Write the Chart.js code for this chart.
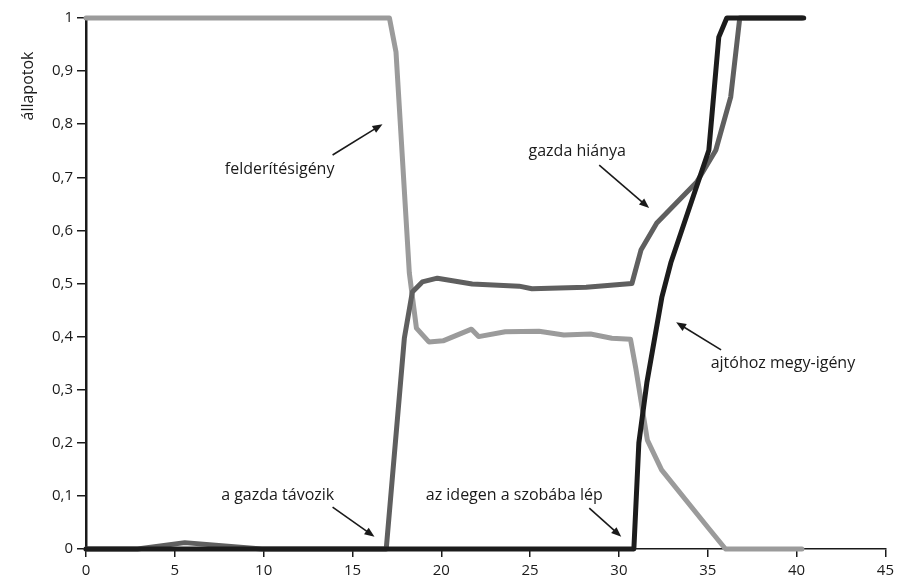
<!DOCTYPE html>
<html>
<head>
<meta charset="utf-8">
<script src="https://cdn.jsdelivr.net/npm/chart.js@4/dist/chart.umd.min.js"></script>
<style>
  html, body { margin: 0; padding: 0; background: #fff; }
  #wrap { width: 899px; height: 581px; position: relative; }
</style>
</head>
<body>
<div id="wrap"><canvas id="c"></canvas></div>
<script>
// ---- data ----
const felderitesX = [0, 17.08, 17.45, 18.2, 18.6, 19.3, 20.1, 21.7, 22.1, 23.6, 25.5, 26.9, 28.4, 29.6, 30.65, 30.95, 31.6, 32.4, 35.0, 36.0, 40.3];
const felderitesY = [1, 1, 0.936, 0.52, 0.416, 0.39, 0.392, 0.414, 0.40, 0.409, 0.41, 0.403, 0.405, 0.397, 0.395, 0.34, 0.205, 0.149, 0.041, 0, 0];

const gazdaX = [0, 2.9, 5.56, 9.9, 16.9, 17.92, 18.37, 18.93, 19.78, 21.74, 24.38, 25.1, 28.15, 30.73, 31.24, 32.13, 34.38, 35.45, 36.29, 36.8, 40.3];
const gazdaY = [0, 0, 0.012, 0, 0, 0.397, 0.484, 0.503, 0.51, 0.499, 0.495, 0.49, 0.493, 0.50, 0.563, 0.614, 0.691, 0.751, 0.851, 1, 1];

const ajtoX = [0, 30.84, 31.12, 31.57, 32.42, 32.92, 35.06, 35.62, 36.07, 40.4];
const ajtoY = [0, 0, 0.2, 0.313, 0.475, 0.539, 0.751, 0.964, 1, 1];

const xTicks = [0, 5, 10, 15, 20, 25, 30, 35, 40, 45];
const yTickLabels = ['0', '0,1', '0,2', '0,3', '0,4', '0,5', '0,6', '0,7', '0,8', '0,9', '1'];
const yTitle = 'állapotok';

// annotations: label text, text anchor, arrow tail, arrow head (data coords)
const annotations = [
  { text: 'felderítésigény',        tx: 10.9,  ty: 0.714, ax: 13.88, ay: 0.742, bx: 16.69, by: 0.800 },
  { text: 'gazda hiánya',           tx: 27.65, ty: 0.748, ax: 28.89, ay: 0.723, bx: 31.70, by: 0.642 },
  { text: 'ajtóhoz megy-igény',     tx: 39.23, ty: 0.350, ax: 35.75, ay: 0.375, bx: 33.22, by: 0.427 },
  { text: 'a gazda távozik',        tx: 10.79, ty: 0.100, ax: 13.88, ay: 0.079, bx: 16.24, by: 0.023 },
  { text: 'az idegen a szobába lép', tx: 24.11, ty: 0.100, ax: 28.33, ay: 0.077, bx: 30.13, by: 0.023 }
];

function pts(xs, ys) { return xs.map((x, i) => ({ x: x, y: ys[i] })); }

const FONT = "'Open Sans', 'DejaVu Sans', sans-serif";

const annotationPlugin = {
  id: 'annots',
  afterDatasetsDraw(chart) {
    const ctx = chart.ctx, xs = chart.scales.x, ys = chart.scales.y;
    ctx.save();
    ctx.font = '16px ' + FONT;
    ctx.fillStyle = '#1a1a1a';
    ctx.strokeStyle = '#1a1a1a';
    ctx.textAlign = 'center';
    ctx.textBaseline = 'middle';
    annotations.forEach(a => {
      ctx.fillText(a.text, xs.getPixelForValue(a.tx), ys.getPixelForValue(a.ty));
      const x1 = xs.getPixelForValue(a.ax), y1 = ys.getPixelForValue(a.ay);
      const x2 = xs.getPixelForValue(a.bx), y2 = ys.getPixelForValue(a.by);
      const ang = Math.atan2(y2 - y1, x2 - x1);
      const L = 10, W = 4;
      ctx.lineWidth = 1.6;
      ctx.beginPath();
      ctx.moveTo(x1, y1);
      ctx.lineTo(x2 - L * 0.8 * Math.cos(ang), y2 - L * 0.8 * Math.sin(ang));
      ctx.stroke();
      ctx.beginPath();
      ctx.moveTo(x2, y2);
      ctx.lineTo(x2 - L * Math.cos(ang) + W * Math.sin(ang), y2 - L * Math.sin(ang) - W * Math.cos(ang));
      ctx.lineTo(x2 - L * Math.cos(ang) - W * Math.sin(ang), y2 - L * Math.sin(ang) + W * Math.cos(ang));
      ctx.closePath();
      ctx.fill();
    });
    // y-axis title near the top of the axis
    ctx.save();
    ctx.translate(chart.chartArea.left - 58, chart.chartArea.top + 68);
    ctx.rotate(-Math.PI / 2);
    ctx.fillText(yTitle, 0, 0);
    ctx.restore();
    ctx.restore();
  }
};

const common = { pointRadius: 0, borderWidth: 5, tension: 0, clip: false, borderCapStyle: 'round', borderJoinStyle: 'round', fill: false };

new Chart(document.getElementById('c'), {
  type: 'line',
  data: {
    datasets: [
      Object.assign({ label: 'ajtóhoz megy-igény', data: pts(ajtoX, ajtoY), borderColor: '#1c1c1c', order: 1 }, common),
      Object.assign({ label: 'gazda hiánya', data: pts(gazdaX, gazdaY), borderColor: '#5f5f5f', order: 2 }, common),
      Object.assign({ label: 'felderítésigény', data: pts(felderitesX, felderitesY), borderColor: '#9b9b9b', order: 3 }, common)
    ]
  },
  options: {
    responsive: true,
    maintainAspectRatio: false,
    animation: false,
    layout: { padding: { top: 18, right: 12, left: 0, bottom: 0 } },
    plugins: { legend: { display: false }, tooltip: { enabled: false } },
    scales: {
      x: {
        type: 'linear', min: 0, max: 45,
        afterFit(s) { s.height = 32; },
        afterBuildTicks(s) { s.ticks = xTicks.map(v => ({ value: v })); },
        border: { display: true, color: '#1a1a1a', width: 1.5 },
        grid: { display: true, drawOnChartArea: false, drawTicks: true, tickLength: 8, color: '#1a1a1a', lineWidth: 1.5 },
        ticks: { color: '#1a1a1a', font: { family: FONT, size: 15 }, padding: 5, maxRotation: 0, callback: v => String(v) }
      },
      y: {
        type: 'linear', min: 0, max: 1,
        afterFit(s) { s.width = 86; },
        afterBuildTicks(s) { s.ticks = yTickLabels.map((t, i) => ({ value: i / 10 })); },
        border: { display: true, color: '#1a1a1a', width: 2.5 },
        grid: { display: true, drawOnChartArea: false, drawTicks: true, tickLength: 9, color: '#1a1a1a', lineWidth: 1.5 },
        ticks: { color: '#1a1a1a', font: { family: FONT, size: 15 }, padding: 4, callback: (v, i) => yTickLabels[i] }
      }
    }
  },
  plugins: [annotationPlugin]
});
</script>
</body>
</html>
